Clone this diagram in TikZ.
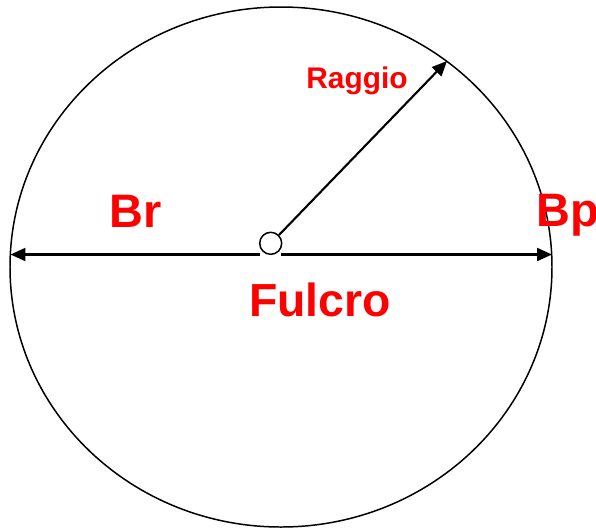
\documentclass[tikz,border=0pt]{standalone}
\usepackage{fontspec}
\setmainfont{Liberation Sans}
\usetikzlibrary{arrows.meta}

\begin{document}
\begin{tikzpicture}[x=0.02cm,y=-0.02cm,
  lbl/.style={text=red,font=\bfseries,anchor=base,inner sep=0pt},
  arr/.style={line width=1.2pt,-{Triangle[length=0.3cm,width=0.26cm]}}]
\useasboundingbox (0,0) rectangle (596,529);
%
% Lever circle
\draw[line width=0.85pt] (281,267) ellipse (271 and 260);
% Fulcrum
\node[draw,circle,line width=0.85pt,minimum size=0.44cm,inner sep=0pt] (fulcro) at (270.7,243.3) {};
\coordinate (brend) at (10.5,254.5);
\coordinate (bpend) at (552,254.5);
\coordinate (gapl) at (260,254.5);
\coordinate (gapr) at (281,254.5);
\coordinate (raggioend) at (447,61);
% Arms
\draw[arr] (gapl) -- (brend);
\draw[arr] (gapr) -- (bpend);
% Radius
\draw[arr] (fulcro.45) -- (raggioend);

% Labels
\node[lbl,font=\bfseries\fontsize{26.7pt}{30pt}\selectfont] (br) at (135.5,227.7) {Br};
\node[lbl,font=\bfseries\fontsize{26.7pt}{30pt}\selectfont] (bp) at (568,226) {Bp};
\node[lbl,font=\bfseries\fontsize{26.4pt}{30pt}\selectfont] (fulcrotxt) at (320,316.7) {Fulcro};
\node[lbl,font=\bfseries\fontsize{17pt}{20pt}\selectfont] (raggio) at (357,88) {Raggio};
\end{tikzpicture}
\end{document}
